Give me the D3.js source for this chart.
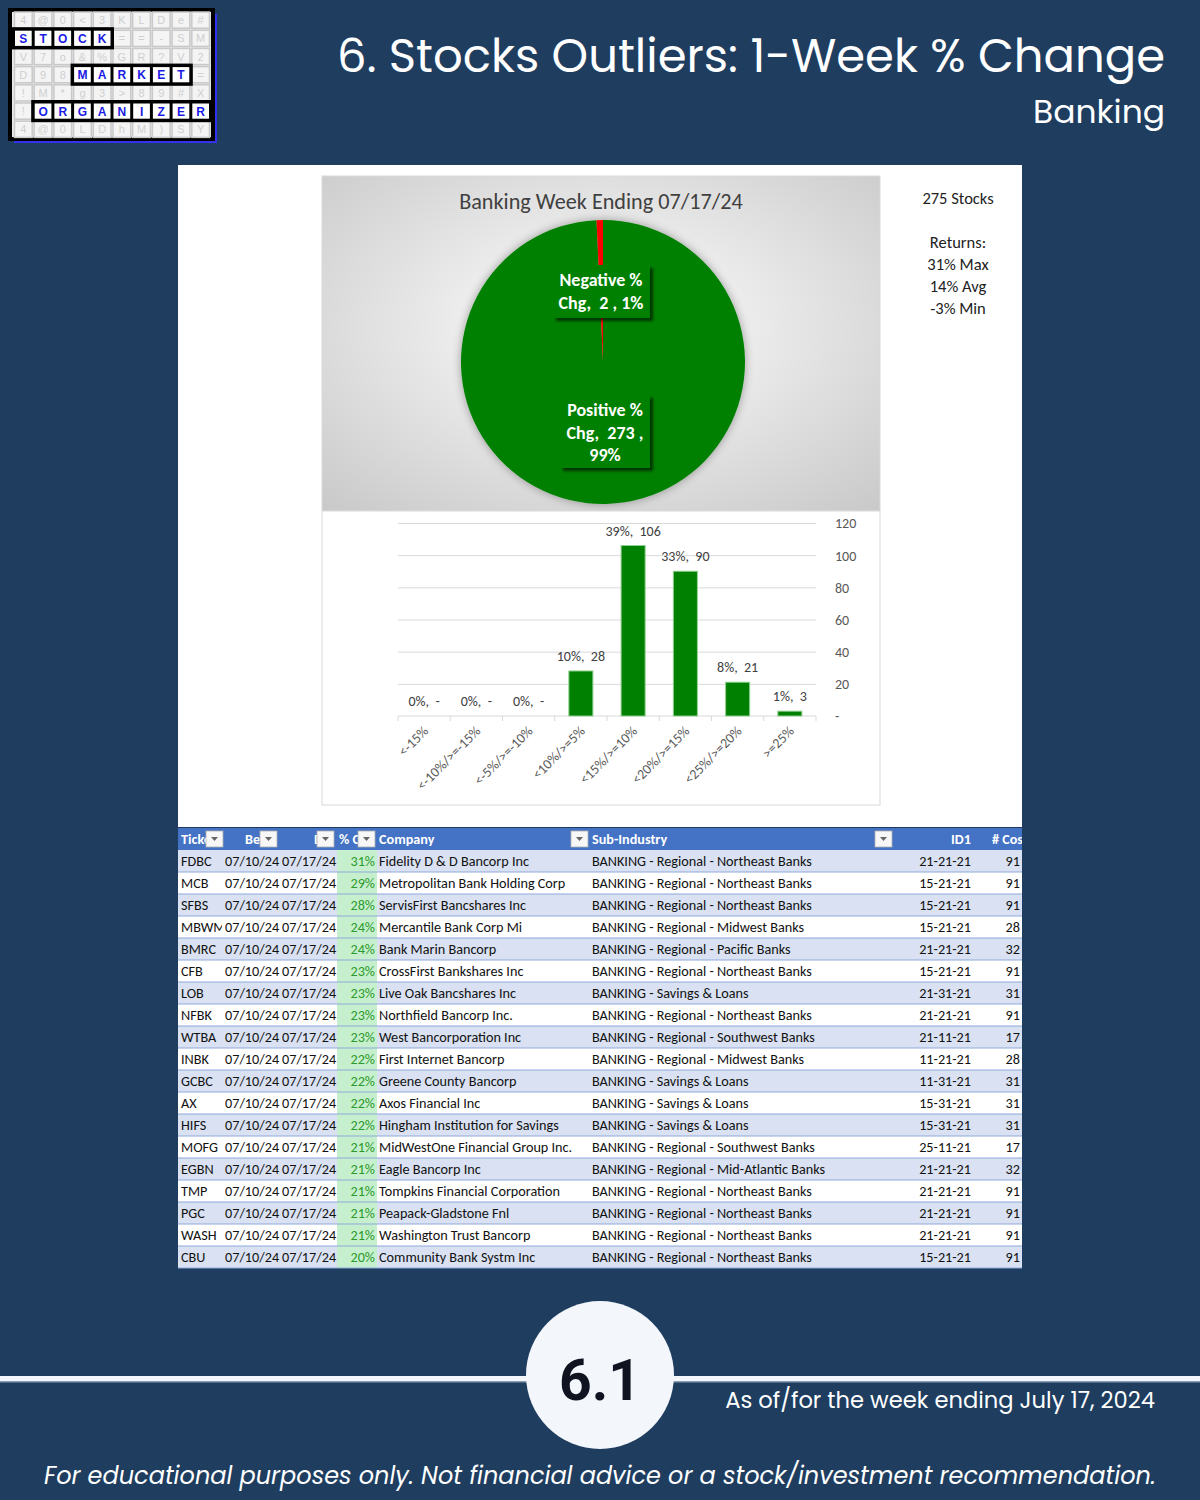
<!DOCTYPE html>
<html><head><meta charset="utf-8">
<script src="https://cdn.jsdelivr.net/npm/d3@7"></script>
<style>
html,body{margin:0;padding:0;background:#1e3d5f;}
svg{display:block;}
</style></head>
<body>
<script>
// ---------------- DATA ----------------
const pieLabels = ["Positive % Chg", "Negative % Chg"];
const pieCounts = [273, 2];
const piePcts = ["99%", "1%"];

const barCats = ["<-15%", "<-10%/>=-15%", "<-5%/>=-10%", "<10%/>=5%", "<15%/>=10%", "<20%/>=15%", "<25%/>=20%", ">=25%"];
const barCounts = [0, 0, 0, 28, 106, 90, 21, 3];
const barPcts = ["0%", "0%", "0%", "10%", "39%", "33%", "8%", "1%"];
const yTicks = [0, 20, 40, 60, 80, 100, 120];

const statsLines = ["275 Stocks", "", "Returns:", "31% Max", "14% Avg", "-3% Min"];

const tickers = ["FDBC","MCB","SFBS","MBWM","BMRC","CFB","LOB","NFBK","WTBA","INBK","GCBC","AX","HIFS","MOFG","EGBN","TMP","PGC","WASH","CBU"];
const beginDates = Array(19).fill("07/10/24");
const endDates = Array(19).fill("07/17/24");
const pctChg = [31,29,28,24,24,23,23,23,23,22,22,22,22,21,21,21,21,21,20];
const companies = ["Fidelity D & D Bancorp Inc","Metropolitan Bank Holding Corp","ServisFirst Bancshares Inc","Mercantile Bank Corp Mi","Bank Marin Bancorp","CrossFirst Bankshares Inc","Live Oak Bancshares Inc","Northfield Bancorp Inc.","West Bancorporation Inc","First Internet Bancorp","Greene County Bancorp","Axos Financial Inc","Hingham Institution for Savings","MidWestOne Financial Group Inc.","Eagle Bancorp Inc","Tompkins Financial Corporation","Peapack-Gladstone Fnl","Washington Trust Bancorp","Community Bank Systm Inc"];
const NE = "BANKING - Regional - Northeast Banks", MW = "BANKING - Regional - Midwest Banks", PA = "BANKING - Regional - Pacific Banks", SL = "BANKING - Savings & Loans", SW = "BANKING - Regional - Southwest Banks", MA = "BANKING - Regional - Mid-Atlantic Banks";
const subIndustries = [NE,NE,NE,MW,PA,NE,SL,NE,SW,MW,SL,SL,SL,SW,MA,NE,NE,NE,NE];
const id1 = ["21-21-21","15-21-21","15-21-21","15-21-21","21-21-21","15-21-21","21-31-21","21-21-21","21-11-21","11-21-21","11-31-21","15-31-21","15-31-21","25-11-21","21-21-21","21-21-21","21-21-21","21-21-21","15-21-21"];
const numCos = [91,91,91,28,32,91,31,91,17,28,31,31,31,17,32,91,91,91,91];
const headers = ["Ticker","Begin","End","% Chg","Company","Sub-Industry","ID1","# Cos"];

const titleText = "6. Stocks Outliers: 1-Week % Change";
const subtitleText = "Banking";
const chartTitle = "Banking Week Ending 07/17/24";
const sectionNo = "6.1";
const asOfText = "As of/for the week ending July 17, 2024";
const disclaimer = "For educational purposes only. Not financial advice or a stock/investment recommendation.";

const logoRows = ["4@0<3KLDe#","STOCK==-SM","V7o&%GR?V2","D98MARKET=","!M*g3>89#X","!ORGANIZER","4@0LDhM)SY"];
const logoWords = [{row:1,start:0,len:5},{row:3,start:3,len:6},{row:5,start:1,len:9}];

// ---------------- SETUP ----------------
const W = 1200, H = 1500;
const svg = d3.select("body").append("svg").attr("width", W).attr("height", H);
const defs = svg.append("defs");
const HEAD = "Poppins, Lato, 'Open Sans', sans-serif";
const CAL = "Carlito, Lato, 'Open Sans', sans-serif";

svg.append("rect").attr("width", W).attr("height", H).attr("fill", "#1e3d5f");

function fitWidth(sel, target) {
  const n = sel.node();
  const w = n.getComputedTextLength();
  const fs = parseFloat(sel.attr("font-size"));
  sel.attr("font-size", fs * target / w);
}

// ---------------- LOGO ----------------
const lg = svg.append("g");
const lx0 = 13.5, lcw = 19.7, ly0 = 11, lrh = 18.2;
lg.append("rect").attr("x", 14).attr("y", 14).attr("width", 203).attr("height", 129).attr("fill", "#3232f0");
lg.append("rect").attr("x", 10).attr("y", 10).attr("width", 203).attr("height", 129).attr("fill", "#e9e9e9").attr("stroke", "#000").attr("stroke-width", 4);
logoRows.forEach((row, r) => {
  row.split("").forEach((ch, c) => {
    lg.append("rect").attr("x", lx0 + c*lcw + 1).attr("y", ly0 + r*lrh + 1).attr("width", lcw - 2).attr("height", lrh - 2)
      .attr("fill", "#f4f4f4").attr("stroke", "#c9c9c9").attr("stroke-width", 1.5);
    lg.append("text").attr("x", lx0 + c*lcw + lcw/2).attr("y", ly0 + r*lrh + lrh/2 + 4).attr("text-anchor", "middle")
      .attr("font-family", "Arial, 'Liberation Sans', sans-serif").attr("font-size", 11).attr("fill", "#cfcfcf").text(ch);
  });
});
logoWords.forEach(w => {
  lg.append("rect").attr("x", lx0 + w.start*lcw - 2).attr("y", ly0 + w.row*lrh - 2).attr("width", w.len*lcw + 4).attr("height", lrh + 4).attr("fill", "#000");
  for (let i = 0; i < w.len; i++) {
    const c = w.start + i;
    lg.append("rect").attr("x", lx0 + c*lcw + 1.5).attr("y", ly0 + w.row*lrh + 1.5).attr("width", lcw - 3).attr("height", lrh - 3).attr("fill", "#fff");
    lg.append("text").attr("x", lx0 + c*lcw + lcw/2).attr("y", ly0 + w.row*lrh + lrh/2 + 4.5).attr("text-anchor", "middle")
      .attr("font-family", "Arial, 'Liberation Sans', sans-serif").attr("font-size", 12).attr("font-weight", "bold").attr("fill", "#1a1ae6")
      .text(logoRows[w.row][c]);
  }
});

// ---------------- TITLE ----------------
const t1 = svg.append("text").attr("x", 1165).attr("y", 72).attr("text-anchor", "end").attr("fill", "#fff")
  .attr("font-family", HEAD).attr("font-size", 46).text(titleText);
fitWidth(t1, 828);
const t2 = svg.append("text").attr("x", 1165).attr("y", 123).attr("text-anchor", "end").attr("fill", "#fff")
  .attr("font-family", HEAD).attr("font-size", 34).text(subtitleText);
fitWidth(t2, 132);

// ---------------- WHITE PANEL ----------------
svg.append("rect").attr("x", 178).attr("y", 165).attr("width", 844).attr("height", 662).attr("fill", "#fff");

// ---------------- PIE ----------------
const rg = defs.append("radialGradient").attr("id", "pieBg").attr("cx", "50%").attr("cy", "45%").attr("r", "75%");
rg.append("stop").attr("offset", "0%").attr("stop-color", "#ffffff");
rg.append("stop").attr("offset", "100%").attr("stop-color", "#c8c8c8");
const sh = defs.append("filter").attr("id", "pieShadow").attr("x", "-20%").attr("y", "-20%").attr("width", "140%").attr("height", "140%");
sh.append("feGaussianBlur").attr("in", "SourceAlpha").attr("stdDeviation", 5).attr("result", "b");
sh.append("feOffset").attr("in", "b").attr("dx", 0).attr("dy", 0).attr("result", "o");
sh.append("feComponentTransfer").attr("in", "o").attr("result", "o2").append("feFuncA").attr("type", "linear").attr("slope", 0.35);
const shm = sh.append("feMerge"); shm.append("feMergeNode").attr("in", "o2"); shm.append("feMergeNode").attr("in", "SourceGraphic");
const lsh = defs.append("filter").attr("id", "lblShadow").attr("x", "-20%").attr("y", "-20%").attr("width", "140%").attr("height", "140%");
lsh.append("feGaussianBlur").attr("in", "SourceAlpha").attr("stdDeviation", 1.5).attr("result", "b");
lsh.append("feOffset").attr("in", "b").attr("dx", 2.5).attr("dy", 2.5).attr("result", "o");
lsh.append("feComponentTransfer").attr("in", "o").attr("result", "o2").append("feFuncA").attr("type", "linear").attr("slope", 0.6);
const lshm = lsh.append("feMerge"); lshm.append("feMergeNode").attr("in", "o2"); lshm.append("feMergeNode").attr("in", "SourceGraphic");

svg.append("rect").attr("x", 322).attr("y", 176).attr("width", 558).attr("height", 335).attr("fill", "url(#pieBg)").attr("stroke", "#d9d9d9");
const ct = svg.append("text").attr("x", 601).attr("y", 209).attr("text-anchor", "middle").attr("font-family", CAL).attr("font-size", 22)
  .attr("fill", "#404040").text(chartTitle);
fitWidth(ct, 284);

const pcx = 603, pcy = 362, pr = 142;
const pieData = d3.pie().sort(null).value(d => d)(pieCounts);
const arc = d3.arc().innerRadius(0).outerRadius(pr);
const pieColors = ["#008000", "#ff0000"];
const pg = svg.append("g").attr("transform", `translate(${pcx},${pcy})`);
pg.append("g").attr("filter", "url(#pieShadow)").selectAll("path").data(pieData).join("path")
  .attr("d", arc).attr("fill", (d, i) => pieColors[i]);

const pieLblLines = [
  [pieLabels[0].replace(" Chg", ""), `Chg,  ${pieCounts[0]} ,`, piePcts[0]],
  [pieLabels[1].replace(" Chg", ""), `Chg,  ${pieCounts[1]} , ${piePcts[1]}`]
];
const pieLblPos = [{x: 605, y: 410, box: [560, 395, 90, 73]}, {x: 601, y: 280, box: [553, 265, 97, 53]}];
[1, 0].forEach(i => {
  const p = pieLblPos[i];
  const g = svg.append("g");
  g.append("rect").attr("x", p.box[0]).attr("y", p.box[1]).attr("width", p.box[2]).attr("height", p.box[3])
    .attr("fill", "#008000").attr("filter", "url(#lblShadow)");
  pieLblLines[i].forEach((ln, j) => {
    g.append("text").attr("x", p.x).attr("y", p.y + j*22.5 + 6).attr("text-anchor", "middle")
      .attr("font-family", CAL).attr("font-size", 18).attr("font-weight", "bold").attr("fill", "#fff").attr("xml:space", "preserve").text(ln);
  });
});

// stats text
statsLines.forEach((s, i) => {
  const yy = [204, 226, 248, 270, 292, 314][i];
  if (s) svg.append("text").attr("x", 958).attr("y", yy).attr("text-anchor", "middle").attr("font-family", CAL)
    .attr("font-size", 16.5).attr("fill", "#222").text(s);
});

// ---------------- BAR CHART ----------------
svg.append("rect").attr("x", 322).attr("y", 511).attr("width", 558).attr("height", 294).attr("fill", "#fff").attr("stroke", "#d9d9d9");
const bx0 = 398, bx1 = 816, by0 = 716, by1 = 523;
const x = d3.scaleBand().domain(barCats).range([bx0, bx1]).paddingInner(0.54).paddingOuter(0.27);
const xb = d3.scaleBand().domain(barCats).range([bx0, bx1]);
const y = d3.scaleLinear().domain([0, 120]).range([by0, by1]);

// gridlines
svg.append("g").attr("transform", `translate(${bx0},0)`)
  .call(d3.axisLeft(y).tickValues(yTicks.slice(1)).tickSize(-(bx1 - bx0)).tickFormat(""))
  .call(g => g.select(".domain").remove())
  .call(g => g.selectAll("line").attr("stroke", "#d9d9d9").attr("stroke-width", 1));
// right labels
svg.append("g").attr("transform", `translate(${bx1 + 16},0)`)
  .call(d3.axisRight(y).tickValues(yTicks).tickSize(0).tickFormat(d => d === 0 ? "-" : d))
  .call(g => g.select(".domain").remove())
  .call(g => g.selectAll("text").attr("font-family", CAL).attr("font-size", 14).attr("fill", "#595959").attr("dy", "0.35em"));
// baseline + ticks
svg.append("line").attr("x1", bx0).attr("x2", bx1).attr("y1", by0).attr("y2", by0).attr("stroke", "#d9d9d9");
svg.append("g").selectAll("line").data(barCats.concat(["__end"])).join("line")
  .attr("x1", d => d === "__end" ? bx1 : xb(d)).attr("x2", d => d === "__end" ? bx1 : xb(d))
  .attr("y1", by0).attr("y2", by0 + 5).attr("stroke", "#d9d9d9");
// bars
svg.append("g").selectAll("rect").data(barCats).join("rect")
  .attr("x", d => x(d)).attr("width", x.bandwidth())
  .attr("y", (d, i) => y(barCounts[i])).attr("height", (d, i) => by0 - y(barCounts[i]))
  .attr("fill", "#008000").attr("stroke", (d, i) => barCounts[i] ? "#8fcf8f" : "none").attr("stroke-width", 1);
// data labels
svg.append("g").selectAll("text").data(barCats).join("text")
  .attr("x", d => x(d) + x.bandwidth()/2).attr("y", (d, i) => y(barCounts[i]) - 10)
  .attr("text-anchor", "middle").attr("font-family", CAL).attr("font-size", 14).attr("fill", "#404040").attr("xml:space", "preserve")
  .text((d, i) => `${barPcts[i]},  ${barCounts[i] === 0 ? "-" : barCounts[i]}`);
// x labels
svg.append("g").selectAll("text").data(barCats).join("text")
  .attr("transform", d => `translate(${xb(d) + xb.bandwidth()/2 + 5},${by0 + 16}) rotate(-45)`)
  .attr("text-anchor", "end").attr("font-family", CAL).attr("font-size", 14).attr("fill", "#595959")
  .text(d => d);

// ---------------- TABLE ----------------
const TF = 14.2;
const tx = 178, tW = 844, headY = 828, headH = 22, rowH = 22;
const colX = [178, 222, 280, 337, 377, 590, 895, 975, 1022];
svg.append("rect").attr("x", tx).attr("y", headY).attr("width", tW).attr("height", headH).attr("fill", "#4472c4");
colX.slice(0, -1).forEach((cx, i) => {
  defs.append("clipPath").attr("id", "col" + i).append("rect").attr("x", cx).attr("y", headY).attr("width", colX[i+1] - cx).attr("height", 460);
});
const btnX = [206, 260, 317, 358, 571, 875];
const headTextX = [181, 245, 314, 339, 379, 592];
headers.forEach((h, i) => {
  if (i < 6) {
    defs.append("clipPath").attr("id", "hc" + i).append("rect").attr("x", colX[i]).attr("y", headY).attr("width", btnX[i] - colX[i]).attr("height", headH);
    svg.append("text").attr("x", headTextX[i]).attr("y", headY + 16).attr("font-family", CAL).attr("font-size", TF).attr("font-weight", "bold")
      .attr("fill", "#fff").attr("clip-path", `url(#hc${i})`).text(h);
  } else {
    svg.append("text").attr("x", i === 6 ? 971 : 1023).attr("y", headY + 16).attr("text-anchor", "end").attr("font-family", CAL).attr("font-size", TF)
      .attr("font-weight", "bold").attr("fill", "#fff").attr("clip-path", `url(#col${i})`).text(h);
  }
});
btnX.forEach(bx => {
  svg.append("rect").attr("x", bx).attr("y", headY + 3).attr("width", 17).attr("height", 16).attr("fill", "#f7f7f7").attr("stroke", "#b0b0b0").attr("stroke-width", 0.8);
  svg.append("path").attr("d", `M${bx + 5},${headY + 9} L${bx + 12},${headY + 9} L${bx + 8.5},${headY + 13} Z`).attr("fill", "#666");
});

const rows = d3.range(tickers.length);
const rowY = i => headY + headH + i*rowH;
svg.append("g").selectAll("rect").data(rows).join("rect")
  .attr("x", tx).attr("y", i => rowY(i)).attr("width", tW).attr("height", rowH)
  .attr("fill", i => i % 2 === 0 ? "#d9e1f2" : "#ffffff");
svg.append("g").selectAll("rect").data(rows).join("rect")
  .attr("x", colX[3]).attr("y", i => rowY(i)).attr("width", colX[4] - colX[3]).attr("height", rowH).attr("fill", "#c6efce");
svg.append("g").selectAll("line").data(rows).join("line")
  .attr("x1", tx).attr("x2", tx + tW).attr("y1", i => rowY(i) + rowH).attr("y2", i => rowY(i) + rowH)
  .attr("stroke", "#8ea9db").attr("stroke-width", 1);

const cellSpec = [
  {arr: tickers, x: 181, anchor: "start", col: 0},
  {arr: beginDates, x: 225, anchor: "start", col: 1},
  {arr: endDates, x: 282, anchor: "start", col: 2},
  {arr: pctChg.map(v => v + "%"), x: 375, anchor: "end", col: 3, color: "#2c9a2c"},
  {arr: companies, x: 379, anchor: "start", col: 4},
  {arr: subIndustries, x: 592, anchor: "start", col: 5},
  {arr: id1, x: 971, anchor: "end", col: 6},
  {arr: numCos, x: 1020, anchor: "end", col: 7}
];
cellSpec.forEach(c => {
  svg.append("g").attr("clip-path", `url(#col${c.col})`).selectAll("text").data(rows).join("text")
    .attr("x", c.x).attr("y", i => rowY(i) + 16).attr("text-anchor", c.anchor)
    .attr("font-family", CAL).attr("font-size", TF).attr("fill", c.color || "#111")
    .text(i => c.arr[i]);
});

// ---------------- FOOTER ----------------
svg.append("rect").attr("x", 0).attr("y", 1376).attr("width", W).attr("height", 5).attr("fill", "#f3f6fb");
svg.append("rect").attr("x", 0).attr("y", 1381).attr("width", W).attr("height", 1.5).attr("fill", "#8a9bb0");
svg.append("circle").attr("cx", 600).attr("cy", 1375).attr("r", 74).attr("fill", "#f3f6fb");
const n61 = svg.append("text").attr("x", 600).attr("y", 1400).attr("text-anchor", "middle").attr("font-family", "Roboto, 'Liberation Sans', sans-serif")
  .attr("font-size", 62).attr("font-weight", "bold").attr("fill", "#0f1420").text(sectionNo);
fitWidth(n61, 82);
const asof = svg.append("text").attr("x", 1155).attr("y", 1408).attr("text-anchor", "end").attr("fill", "#fff")
  .attr("font-family", HEAD).attr("font-size", 22).text(asOfText);
fitWidth(asof, 430);
const disc = svg.append("text").attr("x", 600).attr("y", 1484).attr("text-anchor", "middle").attr("fill", "#fff")
  .attr("font-family", HEAD).attr("font-style", "italic").attr("font-size", 24).text(disclaimer);
fitWidth(disc, 1112);
</script>
</body></html>
